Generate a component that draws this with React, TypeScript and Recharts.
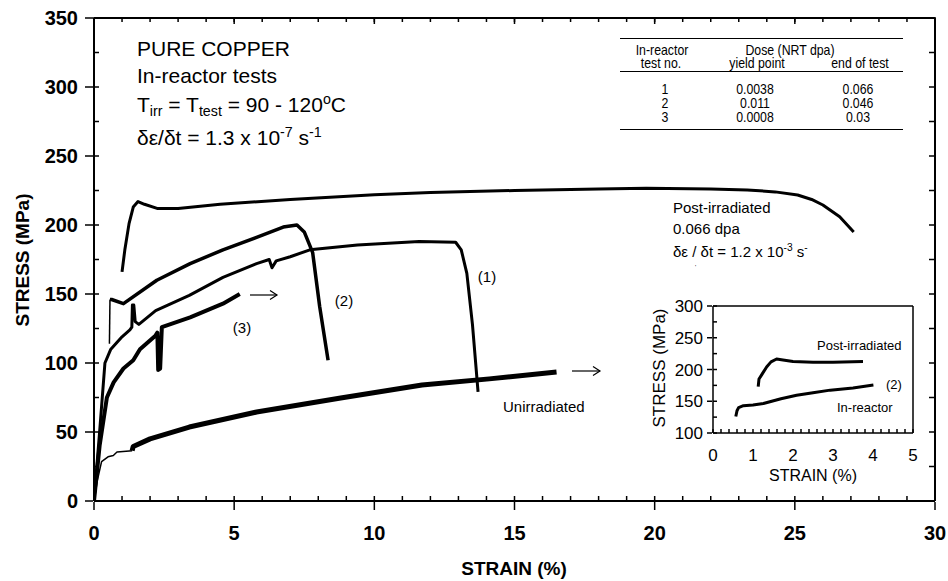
import React from 'react';
import { LineChart, Line, XAxis, YAxis } from 'recharts';

const FONT = 'Arial, "Liberation Sans", Helvetica, sans-serif';

// strain (%), stress (MPa)
const postIrradiated = [
  [1.0, 166], [1.1, 182], [1.25, 201], [1.4, 213], [1.57, 217], [1.8, 215], [2.25, 212],
  [3.0, 212], [4.5, 215], [7, 218.5], [10, 222], [12, 223.5], [15, 225], [18, 226],
  [19.7, 226.6], [22, 226], [23.3, 225.4], [24.3, 224], [25.1, 221.7], [25.6, 218.5],
  [26.0, 214.5], [26.6, 206], [27.1, 195],
];
const test1 = [
  [0, 0], [0.2, 50], [0.39, 100], [0.6, 110], [1.0, 119], [1.28, 124], [1.35, 126],
  [1.37, 142], [1.42, 142], [1.47, 130], [1.6, 128], [2.2, 138], [3.4, 149], [4.6, 162],
  [5.8, 172], [6.25, 175], [6.35, 169], [6.5, 174], [7.0, 177], [7.7, 182], [9.4, 185.5],
  [11.6, 188], [12.9, 187.5], [13.1, 182], [13.3, 165], [13.5, 128], [13.7, 79],
];
const test2Start = [[0.55, 114], [0.57, 146]];
const test2 = [
  [0.57, 146], [0.63, 146], [1.05, 143], [2.24, 160], [3.43, 172], [4.6, 182], [5.8, 191],
  [6.75, 198.5], [7.24, 200], [7.5, 195], [7.7, 185], [7.8, 180], [8.05, 141], [8.35, 102],
];
const test3 = [
  [0, 0], [0.2, 40], [0.46, 75], [0.7, 86], [1.05, 96], [1.4, 102], [1.64, 110], [2.2, 120],
  [2.26, 122], [2.29, 95], [2.36, 96], [2.42, 126], [3.43, 133], [4.6, 143], [5.2, 150],
];
const unirrStart = [
  [0, 0], [0.12, 15], [0.27, 28.5], [0.5, 32], [0.69, 33], [0.82, 35.5], [1.36, 36.5],
];
const unirradiated = [
  [1.36, 36.5], [1.4, 39.5], [2.0, 45], [3.4, 53.6], [5.8, 64.5], [8.8, 74.6], [11.7, 84],
  [14.1, 88.5], [16.5, 93.5],
];

// inset
const insetPost = [
  [1.13, 173], [1.15, 185], [1.22, 192], [1.34, 204], [1.45, 212], [1.59, 216.5], [1.75, 215],
  [2.0, 212.5], [2.5, 211.5], [3.0, 211.5], [3.75, 212.5],
];
const insetReactor = [
  [0.57, 126], [0.6, 135], [0.64, 140], [0.76, 143], [1.0, 144], [1.26, 146.5], [1.7, 154],
  [2.09, 159.5], [2.5, 163.5], [2.93, 167.5], [3.5, 171], [4.01, 175.5],
];

const strainMajor = [0, 5, 10, 15, 20, 25, 30];
const strainMinor = [0, 1, 2, 3, 4, 5, 6, 7, 8, 9, 10, 11, 12, 13, 14, 15, 16, 17, 18, 19, 20,
  21, 22, 23, 24, 25, 26, 27, 28, 29, 30];
const stressMajor = [0, 50, 100, 150, 200, 250, 300, 350];
const stressMinor = [0, 25, 50, 75, 100, 125, 150, 175, 200, 225, 250, 275, 300, 325, 350];
const insetStrainMajor = [0, 1, 2, 3, 4, 5];
const insetStrainMinor = [0, 0.2, 0.4, 0.6, 0.8, 1, 1.2, 1.4, 1.6, 1.8, 2, 2.2, 2.4, 2.6, 2.8,
  3, 3.2, 3.4, 3.6, 3.8, 4, 4.2, 4.4, 4.6, 4.8, 5];
const insetStressMajor = [100, 150, 200, 250, 300];
const insetStressMinor = [100, 125, 150, 175, 200, 225, 250, 275, 300];

const doseTable = [
  ['1', '0.0038', '0.066'],
  ['2', '0.011', '0.046'],
  ['3', '0.0008', '0.03'],
];

const pts = (pairs: number[][]) => pairs.map(([x, y]) => ({ x, y }));
const blank = () => '';
const ink = { stroke: '#000', strokeWidth: 1.5 };
const frame = { stroke: '#000', strokeWidth: 2 };

const Note = ({ x, y, size = 15, weight = 'normal', anchor = 'start', sx = 1, lh = 1, children }: any) => {
  const tx = anchor === 'middle' ? '-50%' : anchor === 'end' ? '-100%' : '0';
  return (
    <div
      style={{
        position: 'absolute', left: x, top: y, fontSize: size, fontWeight: weight,
        fontFamily: FONT, lineHeight: lh, whiteSpace: 'nowrap', color: '#000',
        transform: `translate(${tx}, -50%) scaleX(${sx})`,
        transformOrigin: anchor === 'middle' ? 'center' : 'left',
      }}
    >
      {children}
    </div>
  );
};

const Cell = ({ x, y, children }: any) => (
  <Note x={x} y={y} size={15} anchor="middle" sx={0.82} lh={0.75}>{children}</Note>
);

const Sub = ({ children }: any) => (
  <span style={{ fontSize: '0.68em', position: 'relative', top: '0.3em' }}>{children}</span>
);
const Sup = ({ children }: any) => (
  <span style={{ fontSize: '0.68em', position: 'relative', top: '-0.55em' }}>{children}</span>
);

const HLine = ({ y }: { y: number }) => (
  <div style={{ position: 'absolute', left: 620, top: y, width: 283, height: 1, background: '#000' }} />
);

const series = (data: number[][], w: number, x = 'z_bottom', y = 'z_left', hidden = false) => (
  <Line
    xAxisId={x}
    yAxisId={y}
    data={pts(data)}
    dataKey="y"
    type="linear"
    dot={false}
    stroke={hidden ? 'none' : '#000'}
    strokeWidth={w}
    strokeLinejoin="round"
    isAnimationActive={false}
  />
);

export default function App() {
  const tickBold = { fill: '#000', fontSize: 20, fontWeight: 'bold', fontFamily: FONT };
  const tickInset = { fill: '#000', fontSize: 17, fontFamily: FONT };
  return (
    <div style={{ position: 'absolute', left: 0, top: 0, width: 948, height: 581, background: '#fff' }}>
      <LineChart width={948} height={581} margin={{ top: 16, right: 12, bottom: 18, left: 33 }}>
        {/* labelled axes outside, frame + inward ticks on the plot edge */}
        <XAxis xAxisId="z_bottom" type="number" dataKey="x" domain={[0, 30]} ticks={strainMajor}
          allowDataOverflow height={61} tickSize={8} tickMargin={16} tick={tickBold}
          axisLine={false} tickLine={ink} />
        <XAxis xAxisId="a_bottom" type="number" dataKey="x" domain={[0, 30]} ticks={strainMinor}
          allowDataOverflow height={1} tickSize={-5} tickFormatter={blank} axisLine={frame}
          tickLine={ink} />
        <XAxis xAxisId="z_top" type="number" dataKey="x" domain={[0, 30]} ticks={strainMajor}
          allowDataOverflow orientation="top" height={1} tickSize={-7} tickFormatter={blank}
          axisLine={false} tickLine={ink} />
        <XAxis xAxisId="a_top" type="number" dataKey="x" domain={[0, 30]} ticks={strainMinor}
          allowDataOverflow orientation="top" height={1} tickSize={-4} tickFormatter={blank}
          axisLine={frame} tickLine={ink} />
        <YAxis yAxisId="z_left" type="number" domain={[0, 350]} ticks={stressMajor} allowDataOverflow
          width={60} tickSize={8} tickMargin={7} tick={tickBold} axisLine={false} tickLine={ink} />
        <YAxis yAxisId="a_left" type="number" domain={[0, 350]} ticks={stressMinor} allowDataOverflow
          width={1} tickSize={-5} tickFormatter={blank} axisLine={frame} tickLine={ink} />
        <YAxis yAxisId="a_right" type="number" domain={[0, 350]} ticks={stressMinor} allowDataOverflow
          orientation="right" width={1} tickSize={-6} tickFormatter={blank}
          axisLine={frame} tickLine={ink} />
        {series(postIrradiated, 1, 'a_bottom', 'a_left', true)}
        {series(postIrradiated, 1, 'a_top', 'a_right', true)}
        {series(postIrradiated, 1, 'z_top', 'a_right', true)}
        {series(unirrStart, 1.5)}
        {series(unirradiated, 5)}
        {series(test3, 4)}
        {series(test2Start, 1.5)}
        {series(test2, 3.5)}
        {series(test1, 3)}
        {series(postIrradiated, 3)}
      </LineChart>

      <div style={{ position: 'absolute', left: 640, top: 290 }}>
        <LineChart width={290} height={200} margin={{ top: 15, right: 16, bottom: 0, left: 33 }}>
          <XAxis xAxisId="z_bottom" type="number" dataKey="x" domain={[0, 5]} ticks={insetStrainMajor}
            allowDataOverflow height={56} tickSize={0} tickMargin={15} tick={tickInset}
            axisLine={false} tickLine={false} />
          <XAxis xAxisId="a_bottom" type="number" dataKey="x" domain={[0, 5]} ticks={insetStrainMinor}
            allowDataOverflow height={1} tickSize={-4} tickFormatter={blank} axisLine={ink}
            tickLine={ink} />
          <XAxis xAxisId="a_top" type="number" dataKey="x" domain={[0, 5]} allowDataOverflow
            orientation="top" height={1} tick={false} axisLine={ink} />
          <YAxis yAxisId="z_left" type="number" domain={[100, 300]} ticks={insetStressMajor}
            allowDataOverflow width={39} tickSize={5} tickMargin={4} tick={tickInset}
            axisLine={false} tickLine={ink} />
          <YAxis yAxisId="a_left" type="number" domain={[100, 300]} ticks={insetStressMinor}
            allowDataOverflow width={1} tickSize={-4} tickFormatter={blank}
            axisLine={ink} tickLine={ink} />
          <YAxis yAxisId="a_right" type="number" domain={[100, 300]} allowDataOverflow
            orientation="right" width={1} tick={false} axisLine={ink} />
          {series(insetPost, 1, 'a_bottom', 'a_left', true)}
          {series(insetPost, 1, 'a_top', 'a_right', true)}
          {series(insetPost, 3)}
          {series(insetReactor, 3)}
        </LineChart>
      </div>

      <svg width={948} height={581} style={{ position: 'absolute', left: 0, top: 0, pointerEvents: 'none' }}>
        <g stroke="#000" strokeWidth={1.2} fill="none">
          <line x1={250} y1={295} x2={277} y2={295} />
          <polyline points="270,290.5 277,295 270,299.5" />
          <line x1={572} y1={371} x2={600} y2={371} />
          <polyline points="593,366.5 600,371 593,375.5" />
        </g>
      </svg>

      {/* axis titles */}
      <Note x={514} y={568} size={19} weight="bold" anchor="middle">STRAIN (%)</Note>
      <div style={{
        position: 'absolute', left: 22, top: 260, fontFamily: FONT, fontSize: 19, fontWeight: 'bold',
        whiteSpace: 'nowrap', lineHeight: 1, transform: 'translate(-50%, -50%) rotate(-90deg)',
      }}>STRESS (MPa)</div>

      {/* title block */}
      <Note x={137} y={48} size={21}>PURE COPPER</Note>
      <Note x={137} y={75} size={21}>In-reactor tests</Note>
      <Note x={137} y={104} size={21}>T<Sub>irr</Sub> = T<Sub>test</Sub> = 90 - 120<Sup>o</Sup>C</Note>
      <Note x={137} y={137} size={21}>δε/δt = 1.3 x 10<Sup>-7</Sup> s<Sup>-1</Sup></Note>

      {/* dose table */}
      <HLine y={38} />
      <HLine y={71} />
      <HLine y={129} />
      <Cell x={662} y={50}>In-reactor</Cell>
      <Cell x={661} y={63}>test no.</Cell>
      <Cell x={790} y={50}>Dose (NRT dpa)</Cell>
      <Cell x={757} y={63}>yield point</Cell>
      <Cell x={860} y={63}>end of test</Cell>
      {doseTable.map((row, i) => (
        <React.Fragment key={row[0]}>
          <Cell x={665} y={89 + i * 14}>{row[0]}</Cell>
          <Cell x={755} y={89 + i * 14}>{row[1]}</Cell>
          <Cell x={858} y={89 + i * 14}>{row[2]}</Cell>
        </React.Fragment>
      ))}

      {/* curve labels */}
      <Note x={673} y={207} size={15}>Post-irradiated</Note>
      <Note x={673} y={228} size={15}>0.066 dpa</Note>
      <Note x={673} y={252} size={15}>δε / δt = 1.2 x 10<Sup>-3</Sup> s<Sup>-</Sup></Note>
      <Note x={695} y={267} size={6}>'</Note>
      <Note x={487} y={276} size={15} anchor="middle">(1)</Note>
      <Note x={344} y={300} size={15} anchor="middle">(2)</Note>
      <Note x={242} y={327} size={15} anchor="middle">(3)</Note>
      <Note x={503} y={406} size={15}>Unirradiated</Note>

      {/* inset labels */}
      <Note x={813} y={476} size={16} anchor="middle">STRAIN (%)</Note>
      <div style={{
        position: 'absolute', left: 659, top: 368, fontFamily: FONT, fontSize: 17,
        whiteSpace: 'nowrap', lineHeight: 1, transform: 'translate(-50%, -50%) rotate(-90deg)',
      }}>STRESS (MPa)</div>
      <Note x={817} y={345} size={13}>Post-irradiated</Note>
      <Note x={886} y={384} size={13}>(2)</Note>
      <Note x={837} y={407} size={13}>In-reactor</Note>
    </div>
  );
}
